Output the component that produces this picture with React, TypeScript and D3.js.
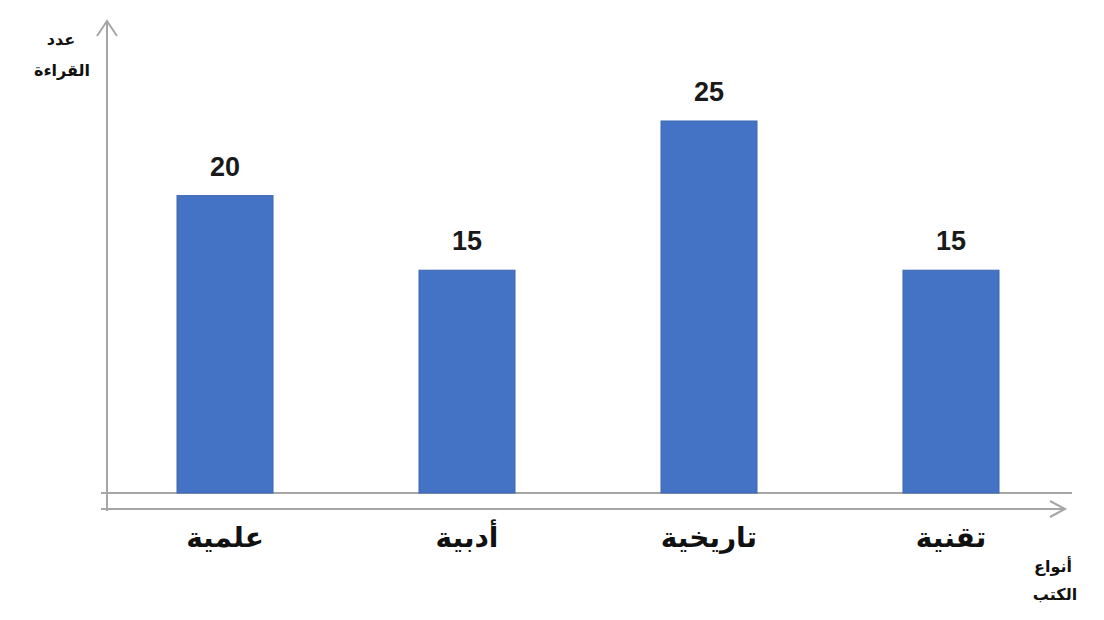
import React from "react";
import * as d3 from "d3";

const categories = ["علمية", "أدبية", "تاريخية", "تقنية"];
const values = [20, 15, 25, 15];
const yAxisTitle = ["عدد", "القراءة"];
const xAxisTitle = ["أنواع", "الكتب"];

export default function App() {
  const W = 1104, H = 620;
  const x = d3.scaleBand<string>().domain(categories).range([104, 1072]).paddingInner(0.6033).paddingOuter(0.3017);
  const y = d3.scaleLinear().domain([0, 25]).range([494, 121]);
  const axisColor = "#a6a6a6";
  const arabicFont = "'DejaVu Sans', 'Noto Sans', sans-serif";
  return (
    <svg width={W} height={H} style={{ position: "absolute", left: 0, top: 0, background: "#fff" }}>
      {/* vertical axis */}
      <line x1={107} y1={21} x2={107} y2={511} stroke={axisColor} strokeWidth={2} />
      <polyline points="97,36 107,21 117,36" fill="none" stroke={axisColor} strokeWidth={2} />
      {/* baseline */}
      <line x1={101} y1={y(0) - 1} x2={1072} y2={y(0) - 1} stroke={axisColor} strokeWidth={2} />
      {/* lower arrow */}
      <line x1={101} y1={509} x2={1065} y2={509} stroke={axisColor} strokeWidth={2} />
      <polyline points="1050,501 1065,509 1050,517" fill="none" stroke={axisColor} strokeWidth={2} />
      {categories.map((c, i) => (
        <g key={c}>
          <rect x={x(c)} y={y(values[i])} width={x.bandwidth()} height={y(0) - y(values[i]) - 1} fill="#4472c4" stroke="#3f66b0" strokeWidth={1} />
          <text x={(x(c) as number) + x.bandwidth() / 2} y={y(values[i]) - 20} textAnchor="middle" fontFamily="'Liberation Sans', Arial, sans-serif" fontWeight="bold" fontSize={27} fill="#1a1a1a">{values[i]}</text>
          <text x={(x(c) as number) + x.bandwidth() / 2} y={547} textAnchor="middle" direction="rtl" fontFamily={arabicFont} fontWeight="bold" fontSize={28} fill="#111">{c}</text>
        </g>
      ))}
      <text x={61} y={45} textAnchor="middle" fontFamily={arabicFont} fontWeight="bold" fontSize={16} fill="#111">{yAxisTitle[0]}</text>
      <text x={62} y={76} textAnchor="middle" fontFamily={arabicFont} fontWeight="bold" fontSize={16} fill="#111">{yAxisTitle[1]}</text>
      <text x={1053} y={572} textAnchor="middle" fontFamily={arabicFont} fontWeight="bold" fontSize={16} fill="#111">{xAxisTitle[0]}</text>
      <text x={1055} y={600} textAnchor="middle" fontFamily={arabicFont} fontWeight="bold" fontSize={16} fill="#111">{xAxisTitle[1]}</text>
    </svg>
  );
}
